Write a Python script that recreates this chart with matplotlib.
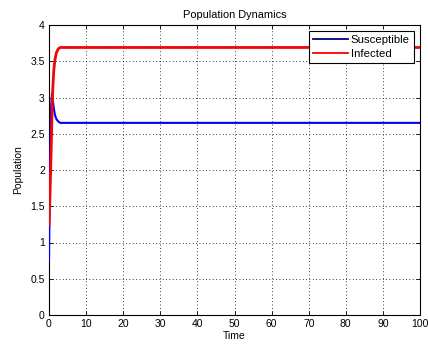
import numpy as np
import matplotlib.pyplot as plt

# ------------------------------------------------------------
# Datos (dinamica rapida cerca de t=0)
# ------------------------------------------------------------
tiempo = [0, 0.3, 0.6, 0.8, 1.0, 1.3, 1.6, 2.0, 2.5, 3.0, 4.0, 100]
susceptible = [0.75, 2.2, 2.9, 3.05, 2.97, 2.85, 2.76, 2.70, 2.67, 2.65, 2.65, 2.65]
infectados = [1.25, 1.7, 2.3, 2.75, 3.1, 3.38, 3.52, 3.62, 3.67, 3.69, 3.69, 3.69]
infectados_b = [1.3, 1.75, 2.35, 2.8, 3.15, 3.42, 3.55, 3.64, 3.68, 3.70, 3.70, 3.70]

plt.rcParams.update({
    "font.family": "Liberation Sans",
    "font.size": 7.5,
    "xtick.direction": "in",
    "ytick.direction": "in",
    "xtick.top": True,
    "ytick.right": True,
})

fig = plt.figure(figsize=(4.28, 3.48), dpi=100)
ax = fig.add_axes([49 / 428, 1 - 315 / 348, (420 - 49) / 428, (315 - 25) / 348])

ax.plot(tiempo, susceptible, color="#0000ff", lw=1.5, label="Susceptible", zorder=3)
ax.plot(tiempo, infectados, color="#ff0000", lw=2.0, label="Infected", zorder=4)
ax.plot(tiempo, infectados_b, color="#a03030", lw=0.6, ls=(0, (8, 4)), alpha=0.7, zorder=5)

ax.set_xlim(0, 100)
ax.set_ylim(0, 4)
ax.set_xticks(np.arange(0, 101, 10))
ax.set_yticks(np.arange(0, 4.01, 0.5))
ax.set_yticklabels(["0", "0.5", "1", "1.5", "2", "2.5", "3", "3.5", "4"])
ax.grid(True, color="black", ls=(0, (1, 3)), lw=0.6)
ax.tick_params(length=3, width=0.6, pad=3)
for s in ax.spines.values():
    s.set_linewidth(0.8)

ax.set_xlabel("Time", labelpad=1)
ax.set_ylabel("Population", labelpad=5)
ax.set_title("Population Dynamics", pad=5, fontsize=7.9)

leg = ax.legend(loc="upper right", fancybox=False, edgecolor="black",
                framealpha=1, borderaxespad=0.55, handlelength=3.1,
                handletextpad=0.2, borderpad=0.35, labelspacing=0.35,
                fontsize=8.2)
leg.get_frame().set_linewidth(0.8)
leg.get_lines()[0].set_color("#000080")
leg.get_lines()[0].set_linewidth(1.3)
leg.get_lines()[1].set_linewidth(1.3)

fig.savefig("out.png", dpi=100, facecolor="white")
